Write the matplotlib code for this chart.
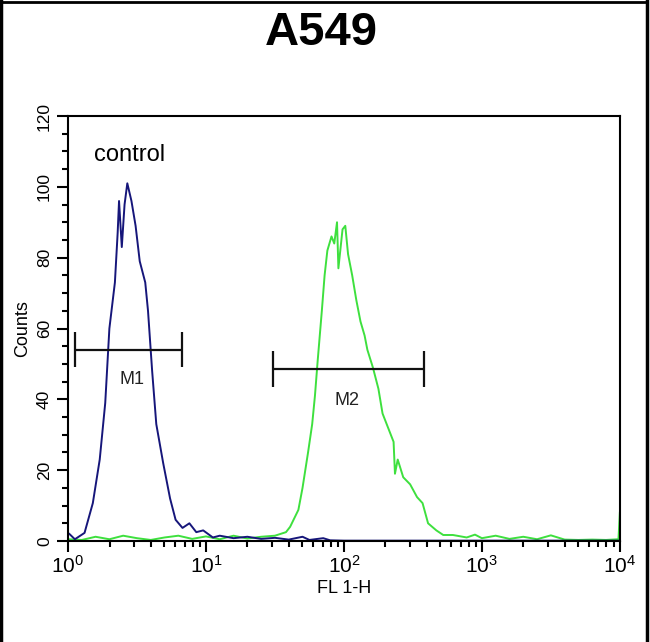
import matplotlib
matplotlib.use('Agg')

import numpy as np
import matplotlib.pyplot as plt
from matplotlib.lines import Line2D
from matplotlib.ticker import MultipleLocator, LogLocator, NullFormatter

plt.rcParams['font.family'] = ['Liberation Sans', 'DejaVu Sans']
plt.rcParams['mathtext.fontset'] = 'custom'
plt.rcParams['mathtext.rm'] = 'Liberation Sans'

# control histogram (blue), x given as log10(FL1-H)
blue_log = [0.01, 0.05, 0.12, 0.18, 0.23, 0.27, 0.30, 0.34, 0.36, 0.37, 0.39, 0.41,
            0.43, 0.46, 0.49, 0.52, 0.56, 0.58, 0.61, 0.64, 0.69, 0.74, 0.78, 0.83,
            0.88, 0.93, 0.98, 1.05, 1.10, 1.20, 1.30, 1.40, 1.50, 1.60, 1.70, 1.75,
            1.85, 1.90, 2.00, 2.50, 3.00, 3.50, 4.00]
blue_counts = [2, 0.5, 2.3, 10.7, 23, 39, 60, 73, 87, 96, 83, 95,
               101, 96, 89, 79, 73, 65, 48, 33, 22, 12, 6, 3.7,
               5, 2.5, 3, 1, 1.5, 0.8, 1.2, 0.6, 0.9, 0.4, 1.2, 0.3,
               0.8, 0.2, 0.1, 0.1, 0.1, 0.1, 0.1]

# antibody histogram (green)
green_log = [0.00, 0.10, 0.20, 0.30, 0.40, 0.50, 0.60, 0.70, 0.80, 0.90, 1.00, 1.10,
             1.20, 1.30, 1.40, 1.50, 1.58, 1.61, 1.67, 1.70, 1.74, 1.77, 1.79, 1.81,
             1.84, 1.86, 1.88, 1.91, 1.93, 1.95, 1.96, 1.99, 2.01, 2.03, 2.06, 2.09,
             2.12, 2.15, 2.17, 2.21, 2.25, 2.28, 2.32, 2.36, 2.37, 2.39, 2.43, 2.48,
             2.53, 2.57, 2.61, 2.67, 2.72, 2.79, 2.89, 2.95, 3.00, 3.10, 3.20, 3.30,
             3.40, 3.50, 3.60, 3.70, 3.80, 3.90, 3.99, 4.00]
green_counts = [0.5, 0.3, 1.2, 0.5, 1.5, 0.8, 0.3, 1.0, 1.5, 0.6, 1.3, 0.5,
                1.5, 0.7, 1.2, 1.5, 2.5, 4, 8.8, 15, 25, 33, 41, 51,
                65, 75, 82, 86, 84, 90, 77, 88, 89, 81, 75, 68,
                62, 58, 54, 49, 43, 36, 32, 28, 19, 23, 18, 16,
                12.4, 10.7, 5, 3, 1.7, 1.7, 1, 1.8, 0.8, 1.5, 0.6, 1.2,
                0.5, 1.6, 0.4, 0.3, 0.4, 0.3, 0.5, 8]

# marker gates
gate_names = ['M1', 'M2']
gate_left = [1.12, 30.6]
gate_right = [6.7, 380]
gate_y = [54, 48.6]
gate_label_x = [2.9, 105]
gate_label_y = [45.5, 39.8]

x_ticks = [1, 10, 100, 1000, 10000]
x_tick_labels = [r'$\mathregular{10^{0}}$', r'$\mathregular{10^{1}}$', r'$\mathregular{10^{2}}$',
                 r'$\mathregular{10^{3}}$', r'$\mathregular{10^{4}}$']

fig = plt.figure(figsize=(6.5, 6.42), dpi=100)
ax = fig.add_axes([0.1046, 0.1573, 0.849, 0.662])

ax.plot(np.power(10.0, green_log), green_counts, color='#3ee03e', lw=1.4)
ax.plot(np.power(10.0, blue_log), blue_counts, color='#16167a', lw=1.4)

for i in range(len(gate_names)):
    ax.hlines(gate_y[i], gate_left[i], gate_right[i], color='#111111', lw=1.6)
    ax.vlines([gate_left[i], gate_right[i]], gate_y[i] - 5, gate_y[i] + 5, color='#111111', lw=1.6)
    ax.text(gate_label_x[i], gate_label_y[i], gate_names[i], fontsize=13,
            ha='center', va='center', color='#222222')

ax.text(2.8, 109, 'control', fontsize=17, ha='center', va='center')

ax.set_xscale('log')
ax.set_xlim(1, 10000)
ax.set_ylim(0, 120)
ax.set_xticks(x_ticks)
ax.set_xticklabels(x_tick_labels, fontsize=15)
ax.xaxis.set_minor_locator(LogLocator(base=10, subs=np.arange(2, 10)))
ax.xaxis.set_minor_formatter(NullFormatter())
ax.yaxis.set_major_locator(MultipleLocator(20))
ax.yaxis.set_minor_locator(MultipleLocator(5))
ax.tick_params(axis='y', which='major', labelsize=12.5, labelrotation=90, length=8, width=1.5)
ax.tick_params(axis='y', which='minor', length=4, width=1.5)
ax.tick_params(axis='x', which='major', length=8, width=1.5, pad=2)
ax.tick_params(axis='x', which='minor', length=4, width=1.5)
for t in ax.get_yticklabels():
    t.set_va('center')
for s in ax.spines.values():
    s.set_linewidth(1.5)

ax.set_xlabel('FL 1-H', fontsize=13, labelpad=2)
ax.set_ylabel('Counts', fontsize=13, labelpad=4)

fig.text(0.495, 1 - 45 / 642, 'A549', fontsize=34, fontweight='bold', ha='center', va='baseline')

# outer frame of the image
fig.add_artist(Line2D([0.002, 0.002], [0, 0.998], color='black', lw=2.5, transform=fig.transFigure))
fig.add_artist(Line2D([0.996, 0.996], [0, 0.998], color='black', lw=2.5, transform=fig.transFigure))
fig.add_artist(Line2D([0.002, 0.996], [0.997, 0.997], color='black', lw=2, transform=fig.transFigure))

fig.savefig('out.png', dpi=100)
